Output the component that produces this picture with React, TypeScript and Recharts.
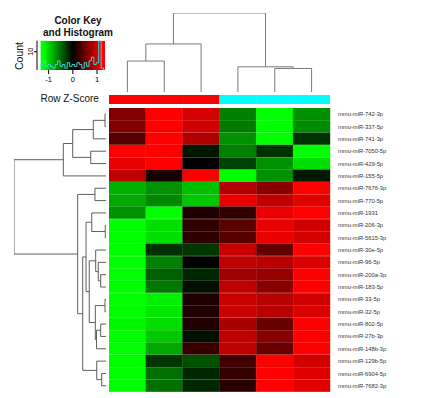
import React from 'react';
import {
  BarChart, Bar, Cell, XAxis, YAxis, ScatterChart, Scatter,
  ComposedChart, Line, ReferenceArea,
} from 'recharts';

// miRNA rows, top to bottom as shown
const rowLabels = [
  'mmu-miR-742-3p', 'mmu-miR-337-5p', 'mmu-miR-741-3p', 'mmu-miR-7050-5p',
  'mmu-miR-429-5p', 'mmu-miR-155-5p', 'mmu-miR-7676-3p', 'mmu-miR-770-5p',
  'mmu-miR-1931', 'mmu-miR-206-3p', 'mmu-miR-5615-3p', 'mmu-miR-30e-5p',
  'mmu-miR-96-5p', 'mmu-miR-200a-3p', 'mmu-miR-183-5p', 'mmu-miR-33-5p',
  'mmu-miR-32-5p', 'mmu-miR-802-5p', 'mmu-miR-27b-3p', 'mmu-miR-148b-3p',
  'mmu-miR-129b-5p', 'mmu-miR-6904-5p', 'mmu-miR-7682-3p',
];

// sample groups (column side colours)
const sampleGroups = ['#ff0000', '#ff0000', '#ff0000', '#00ffff', '#00ffff', '#00ffff'];

// row z-scores, 6 samples each
const zRows = [
  [0.60, 1.20, 1.00, -0.60, -1.20, -0.68],
  [0.62, 1.22, 0.98, -0.58, -1.25, -0.66],
  [0.40, 1.25, 0.83, -0.68, -1.22, -0.23],
  [1.22, 1.25, -0.11, -0.60, -0.23, -1.24],
  [1.09, 1.30, 0.00, -0.30, -0.68, -1.05],
  [0.90, 0.11, 1.28, -1.21, -0.68, -0.11],
  [-0.83, -0.68, -0.90, 0.83, 0.64, 1.25],
  [-0.79, -0.64, -0.94, 1.09, 0.90, 1.05],
  [-0.68, -1.30, 0.15, 0.23, 1.09, 1.23],
  [-1.26, -1.05, 0.23, 0.42, 1.09, 0.98],
  [-1.25, -1.06, 0.22, 0.41, 1.10, 0.99],
  [-1.30, -0.23, -0.26, 0.94, 0.45, 1.24],
  [-1.28, -0.60, -0.01, 0.90, 0.86, 1.02],
  [-1.30, -0.45, -0.19, 0.75, 0.71, 1.22],
  [-1.27, -0.56, -0.07, 0.90, 0.64, 1.23],
  [-1.29, -1.13, 0.15, 0.94, 0.86, 0.98],
  [-1.28, -1.09, 0.15, 0.94, 0.86, 1.02],
  [-1.16, -1.05, 0.15, 0.79, 0.49, 1.25],
  [-1.26, -0.94, -0.07, 0.90, 0.64, 1.23],
  [-1.30, -0.79, 0.26, 0.90, 0.49, 1.22],
  [-1.27, -0.26, -0.38, 0.30, 1.28, 0.98],
  [-1.30, -0.53, -0.19, 0.26, 1.24, 1.05],
  [-1.26, -0.53, -0.19, 0.19, 1.27, 1.06],
];

// hclust-style merges: negative = leaf (1-based display order), positive = earlier merge
const rowMerge: [number, number, number][] = [
  [-1, -2, 0.11], [-10, -11, 0.08], [-16, -17, 0.11], [-22, -23, 0.47],
  [-14, -15, 0.58], [-18, -19, 0.58], [-13, 5, 0.84], [-21, 4, 1.01],
  [6, -20, 1.03], [-12, 7, 1.12], [3, 9, 1.16], [-7, -8, 1.2],
  [1, -3, 1.38], [-9, 2, 1.55], [-4, -5, 1.66], [10, 11, 1.82],
  [14, 16, 2.17], [17, 8, 2.53], [12, 18, 3.08], [13, 15, 3.62],
  [20, -6, 4.64], [21, 19, 10],
];
const colMerge: [number, number, number][] = [
  [-5, -6, 2.98], [-4, 1, 3.19], [-1, -2, 3.92], [3, -3, 6.08], [4, 2, 10],
];

// colour key histogram
const histStart = -1.33;
const histStep = 0.1;
const histCounts = [3, 5, 2, 3, 2, 1, 3, 5, 2, 3, 1, 4, 2, 3, 2, 4, 3, 1, 4, 2, 5, 7, 3, 4, 16, 1, 0];

const ZMAX = 1.2;
const zColor = (z: number) => {
  const v = Math.round(Math.min(1, Math.abs(z) / ZMAX) * 255);
  return z >= 0 ? `rgb(${v},0,0)` : `rgb(0,${v},0)`;
};

function dendroSegments(merge: [number, number, number][]) {
  const pos: number[] = [];
  const hgt: number[] = [];
  const at = (k: number) => (k < 0 ? { p: -k - 0.5, h: 0 } : { p: pos[k - 1], h: hgt[k - 1] });
  return merge.map(([a, b, h], i) => {
    const A = at(a);
    const B = at(b);
    pos[i] = (A.p + B.p) / 2;
    hgt[i] = h;
    return [{ p: A.p, h: A.h }, { p: A.p, h }, { p: B.p, h }, { p: B.p, h: B.h }];
  });
}

const rowSegs = dendroSegments(rowMerge);
const colSegs = dendroSegments(colMerge);

const heatData = rowLabels.map((name) => ({ name, s0: 1, s1: 1, s2: 1, s3: 1, s4: 1, s5: 1 }));
const sideData = sampleGroups.map((g, i) => ({ name: `S${i + 1}`, v: 1 }));
const histData = [...histCounts, histCounts[histCounts.length - 1]].map((c, i) => ({
  x: histStart + i * histStep,
  c,
}));

const FONT = 'Liberation Sans, Arial, sans-serif';
const noDot = () => <g />;

export default function App() {
  return (
    <div style={{ position: 'fixed', left: 0, top: 0, width: 422, height: 398, background: '#fff', fontFamily: FONT }}>
      {/* colour key */}
      <div style={{ position: 'absolute', left: 20, top: 38 }}>
        <ComposedChart width={87} height={50} data={histData} margin={{ top: 2.7, right: 2, bottom: 0, left: 0 }}>
          <defs>
            <linearGradient id="keyGrad" x1="0" y1="0" x2="1" y2="0">
              <stop offset="0" stopColor="#00ff00" />
              <stop offset="0.05" stopColor="#00ff00" />
              <stop offset="0.5" stopColor="#000000" />
              <stop offset="0.95" stopColor="#ff0000" />
              <stop offset="1" stopColor="#ff0000" />
            </linearGradient>
          </defs>
          <XAxis type="number" dataKey="x" domain={[-1.48, 1.33]} ticks={[-1, 0, 1]} allowDataOverflow
            height={18} axisLine={false} tickSize={4} tickMargin={3}
            tickLine={{ stroke: '#000' }} tick={{ fontSize: 7.5, fill: '#000', fontFamily: FONT }} />
          <YAxis type="number" domain={[0, 16]} ticks={[0, 10]} allowDataOverflow width={17}
            axisLine={{ stroke: '#000' }} tickLine={{ stroke: '#000' }} tickSize={3} tickMargin={1}
            tick={({ x, y, payload }: any) => (
              <text x={x} y={y} transform={`rotate(-90 ${x} ${y})`} textAnchor="middle" fontSize={7.5} fontFamily={FONT} fill="#000">
                {payload.value}
              </text>
            )} />
          <ReferenceArea x1={-1.33} x2={1.33} y1={0} y2={16} fill="url(#keyGrad)" fillOpacity={1} stroke="none" ifOverflow="hidden" />
          <Line type="stepAfter" dataKey="c" stroke="#33d6d6" strokeWidth={1} dot={false} isAnimationActive={false} />
        </ComposedChart>
      </div>

      {/* column dendrogram */}
      <div style={{ position: 'absolute', left: 109, top: 13 }}>
        <ScatterChart width={221} height={79} margin={{ top: 0, right: 0, bottom: 0, left: 0 }}>
          <XAxis type="number" dataKey="p" domain={[0, 6]} hide />
          <YAxis type="number" dataKey="h" domain={[0, 10]} hide />
          {colSegs.map((seg, i) => (
            <Scatter key={i} data={seg} line={{ stroke: '#7a7a7a', strokeWidth: 1 }} shape={noDot} isAnimationActive={false} />
          ))}
        </ScatterChart>
      </div>

      {/* column side colours */}
      <div style={{ position: 'absolute', left: 109, top: 95 }}>
        <BarChart width={221} height={9} data={sideData} barCategoryGap={0} margin={{ top: 0, right: 0, bottom: 0, left: 0 }}>
          <XAxis dataKey="name" hide />
          <YAxis type="number" domain={[0, 1]} hide />
          <Bar dataKey="v" isAnimationActive={false}>
            {sampleGroups.map((g, i) => <Cell key={i} fill={g} stroke={g} strokeWidth={0.4} />)}
          </Bar>
        </BarChart>
      </div>

      {/* row dendrogram */}
      <div style={{ position: 'absolute', left: 14, top: 108 }}>
        <ScatterChart width={92} height={284} margin={{ top: 0, right: 0, bottom: 0, left: 0 }}>
          <XAxis type="number" dataKey="h" domain={[0, 10]} reversed hide />
          <YAxis type="number" dataKey="p" domain={[0, 23]} reversed hide />
          {rowSegs.map((seg, i) => (
            <Scatter key={i} data={seg} line={{ stroke: '#5e5e5e', strokeWidth: 1 }} shape={noDot} isAnimationActive={false} />
          ))}
        </ScatterChart>
      </div>

      {/* heatmap */}
      <div style={{ position: 'absolute', left: 109, top: 108 }}>
        <BarChart width={313} height={284} data={heatData} layout="vertical" barCategoryGap={0} barGap={0}
          margin={{ top: 0, right: 0, bottom: 0, left: 0 }}>
          <XAxis type="number" domain={[0, 6]} hide />
          <YAxis type="category" dataKey="name" orientation="right" width={92} interval={0}
            axisLine={false} tickLine={false} tickSize={6} tickMargin={2}
            tick={{ fontSize: 5.8, fill: '#333', fontFamily: FONT }} />
          {[0, 1, 2, 3, 4, 5].map((j) => (
            <Bar key={j} dataKey={`s${j}`} stackId="z" isAnimationActive={false}>
              {zRows.map((r, i) => <Cell key={i} fill={zColor(r[j])} stroke={zColor(r[j])} strokeWidth={0.4} />)}
            </Bar>
          ))}
        </BarChart>
      </div>

      {/* titles */}
      <svg width={422} height={398} style={{ position: 'absolute', left: 0, top: 0, pointerEvents: 'none' }}>
        <text x={78} y={24} textAnchor="middle" fontSize={10} fontWeight="bold" fontFamily={FONT} fill="#111">Color Key</text>
        <text x={78} y={36} textAnchor="middle" fontSize={10} fontWeight="bold" fontFamily={FONT} fill="#111">and Histogram</text>
        <text transform="translate(23,56) rotate(-90)" textAnchor="middle" fontSize={10.5} fontFamily={FONT} fill="#111">Count</text>
        <text x={40.5} y={102} fontSize={10} fontFamily={FONT} fill="#111">Row Z-Score</text>
      </svg>
    </div>
  );
}
